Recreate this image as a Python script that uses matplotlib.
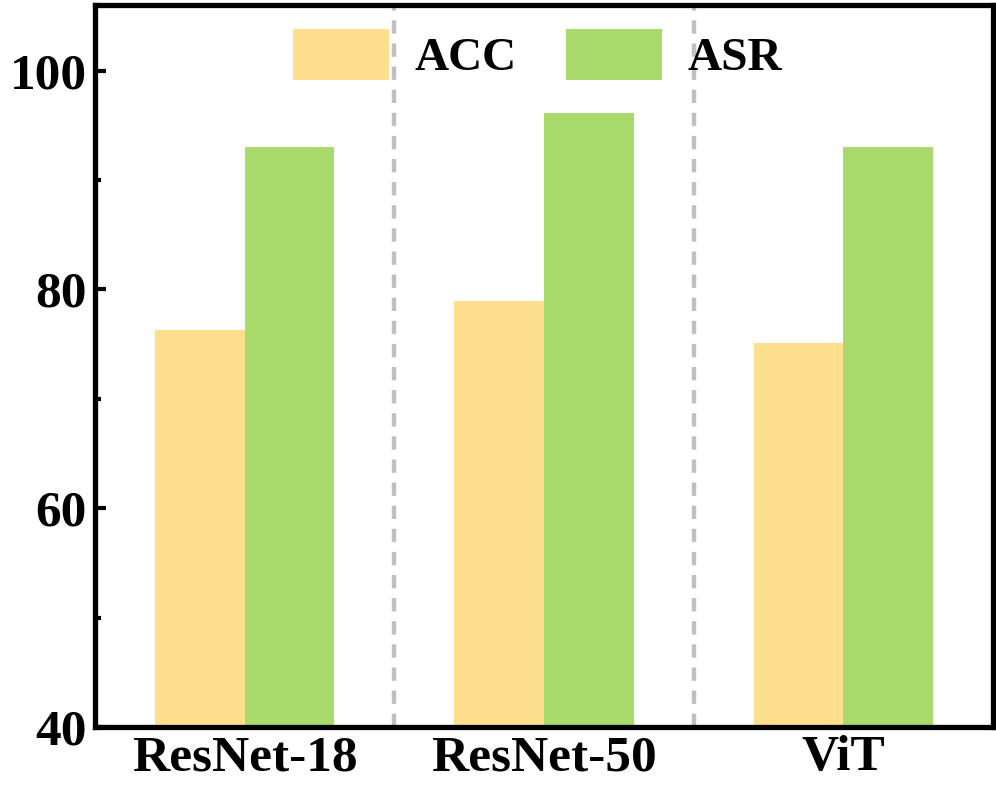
import numpy as np
import matplotlib.pyplot as plt
from matplotlib.ticker import MultipleLocator

models = ['ResNet-18', 'ResNet-50', 'ViT']
acc = [76.3, 78.9, 75.1]
asr = [93.0, 96.1, 93.0]

plt.rcParams['font.family'] = ['Liberation Serif', 'DejaVu Serif']
plt.rcParams['font.weight'] = 'bold'

fig = plt.figure(figsize=(9.96, 7.96), dpi=100)
ax = fig.add_axes([95 / 996, 1 - 727 / 796, 898 / 996, 722 / 796])

x = np.arange(len(models))
w = 0.3
ax.bar(x - w / 2, acc, w, color='#fddf8d', label='ACC', zorder=2)
ax.bar(x + w / 2, asr, w, color='#a8da6c', label='ASR', zorder=2)

# grey dashed separators between model groups
for sep in [0.5, 1.5]:
    ax.axvline(sep, color='#c0c0c0', lw=3.2, ls=(0, (3, 2.2)), zorder=1)

ax.set_xlim(-0.5, 2.5)
ax.set_ylim(40, 106)
ax.set_xticks(x)
ax.set_xticklabels(models)
ax.yaxis.set_major_locator(MultipleLocator(20))
ax.yaxis.set_minor_locator(MultipleLocator(10))
ax.tick_params(axis='both', which='major', direction='in', length=8, width=3,
               labelsize=37, pad=6)
ax.tick_params(axis='y', which='minor', direction='in', length=4, width=3)
for s in ax.spines.values():
    s.set_linewidth(3.8)

ax.legend(loc='upper center', ncol=2, frameon=False, fontsize=34,
          handlelength=2.03, handleheight=1.3, handletextpad=0.53,
          columnspacing=1.06, bbox_to_anchor=(0.493, 1.0), borderaxespad=0.1)

fig.savefig('out.png', dpi=100)
